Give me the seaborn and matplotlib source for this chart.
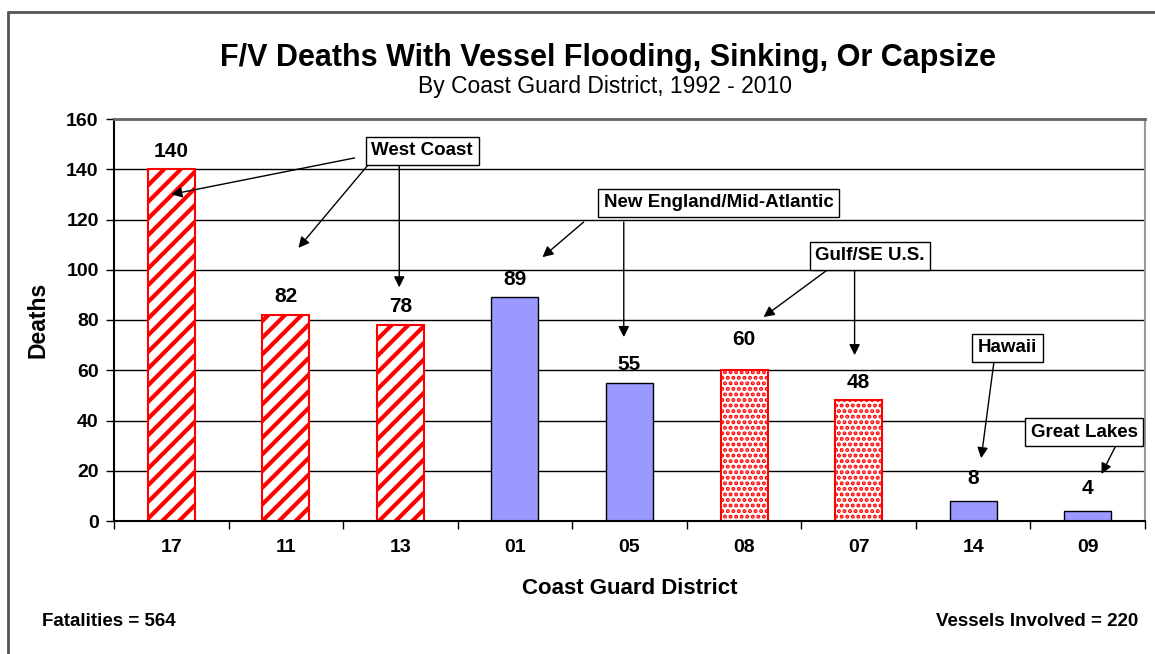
import numpy as np
import pandas as pd
import matplotlib.pyplot as plt
import seaborn as sns
from matplotlib.lines import Line2D

# Datos
distritos = ['17', '11', '13', '01', '05', '08', '07', '14', '09']
muertes = [140, 82, 78, 89, 55, 60, 48, 8, 4]
regiones = ['West Coast', 'West Coast', 'West Coast',
            'New England/Mid-Atlantic', 'New England/Mid-Atlantic',
            'Gulf/SE U.S.', 'Gulf/SE U.S.', 'Hawaii', 'Great Lakes']
y_ticks = [0, 20, 40, 60, 80, 100, 120, 140, 160]

df = pd.DataFrame({'District': distritos, 'Deaths': muertes, 'Region': regiones})

# estilo de relleno por region
estilos = {
    'West Coast': dict(facecolor='white', edgecolor='#FF0000', hatch='//', lw=1.5, hlw=3.0),
    'New England/Mid-Atlantic': dict(facecolor='#9999FF', edgecolor='black', hatch=None, lw=1, hlw=1),
    'Gulf/SE U.S.': dict(facecolor='white', edgecolor='#FF0000', hatch='...', lw=1.5, hlw=2.0),
    'Hawaii': dict(facecolor='#9999FF', edgecolor='black', hatch=None, lw=1, hlw=1),
    'Great Lakes': dict(facecolor='#9999FF', edgecolor='black', hatch=None, lw=1, hlw=1),
}

sns.set_theme(style='white')
plt.rcParams['font.family'] = ['Liberation Sans', 'DejaVu Sans']
plt.rcParams['text.color'] = 'black'
plt.rcParams['axes.labelcolor'] = 'black'
plt.rcParams['xtick.color'] = 'black'
plt.rcParams['ytick.color'] = 'black'
plt.rcParams['hatch.linewidth'] = 3.0

fig = plt.figure(figsize=(11.55, 6.54), dpi=100)
ax = fig.add_axes([114/1155, 133/654, 1031/1155, 402/654])

sns.barplot(data=df, x='District', y='Deaths', order=distritos, width=0.41,
            color='#9999FF', saturation=1, errorbar=None, ax=ax)

for barra, reg in zip(ax.patches, df['Region']):
    e = estilos[reg]
    barra.set_facecolor(e['facecolor'])
    barra.set_edgecolor(e['edgecolor'])
    barra.set_linewidth(e['lw'])
    if e['hatch']:
        barra.set_hatch(e['hatch'])
        if hasattr(barra, 'set_hatch_linewidth'):
            barra.set_hatch_linewidth(e['hlw'])

# etiquetas de valor
desplaz = {5: 22, 7: 16, 8: 16}
for i, v in enumerate(df['Deaths']):
    ax.annotate(str(v), (i, v), xytext=(0, desplaz.get(i, 13)), textcoords='offset points',
                ha='center', va='center', fontsize=15, fontweight='bold')

ax.set_xlim(-0.5, len(distritos) - 0.5)
ax.set_ylim(0, 160)
ax.set_yticks(y_ticks)
ax.grid(axis='y', color='black', lw=1)
ax.set_axisbelow(True)
ax.set_xticks(np.arange(-0.5, len(distritos), 1), minor=True)
ax.tick_params(axis='x', which='major', length=0, pad=13, labelsize=14)
ax.tick_params(axis='x', which='minor', length=6, width=1, color='black', bottom=True, direction='out')
ax.tick_params(axis='y', length=6, width=1, color='black', left=True, direction='out', labelsize=14, pad=5)
for lab in ax.get_xticklabels() + ax.get_yticklabels():
    lab.set_fontweight('bold')

for lado in ['left', 'bottom']:
    ax.spines[lado].set_color('black')
    ax.spines[lado].set_linewidth(1.5)
ax.spines['top'].set_color('#666666')
ax.spines['top'].set_linewidth(2)
ax.spines['right'].set_color('#999999')
ax.spines['right'].set_linewidth(1.5)

ax.set_xlabel('Coast Guard District', fontsize=16, fontweight='bold', labelpad=16)
ax.set_ylabel('Deaths', fontsize=16.5, fontweight='bold', labelpad=12)

# cajas de region con flechas
caja = dict(boxstyle='square,pad=0.3', fc='white', ec='black', lw=1)
flecha = dict(arrowstyle='-|>', color='black', lw=1, mutation_scale=16, shrinkA=0, shrinkB=0)
fs_caja = 13.5

ax.text(2.19, 147.3, 'West Coast', ha='center', va='center', fontsize=fs_caja, fontweight='bold', bbox=caja, zorder=5)
ax.annotate('', xy=(0.0, 130), xytext=(1.60, 144.5), arrowprops=flecha)
ax.annotate('', xy=(1.11, 108.7), xytext=(1.71, 141.3), arrowprops=flecha)
ax.annotate('', xy=(1.99, 93), xytext=(1.99, 141.3), arrowprops=flecha)

ax.text(4.78, 126.6, 'New England/Mid-Atlantic', ha='center', va='center', fontsize=fs_caja, fontweight='bold', bbox=caja, zorder=5)
ax.annotate('', xy=(3.24, 105), xytext=(3.60, 119), arrowprops=flecha)
ax.annotate('', xy=(3.95, 73.2), xytext=(3.95, 119), arrowprops=flecha)

ax.text(6.10, 105.5, 'Gulf/SE U.S.', ha='center', va='center', fontsize=fs_caja, fontweight='bold', bbox=caja, zorder=5)
ax.annotate('', xy=(5.17, 81.2), xytext=(5.75, 100.7), arrowprops=flecha)
ax.annotate('', xy=(5.965, 66), xytext=(5.965, 100.7), arrowprops=flecha)

ax.text(7.30, 68.9, 'Hawaii', ha='center', va='center', fontsize=fs_caja, fontweight='bold', bbox=caja, zorder=5)
ax.annotate('', xy=(7.07, 25), xytext=(7.18, 62.9), arrowprops=flecha)

ax.text(7.97, 35.4, 'Great Lakes', ha='center', va='center', fontsize=fs_caja, fontweight='bold', bbox=caja, zorder=5)
ax.annotate('', xy=(8.12, 18.7), xytext=(8.24, 29.5), arrowprops=flecha)

# titulos y notas
fig.text(0.526, 1 - 58/654, 'F/V Deaths With Vessel Flooding, Sinking, Or Capsize',
         ha='center', va='center', fontsize=22, fontweight='bold')
fig.text(0.524, 1 - 86/654, 'By Coast Guard District, 1992 - 2010',
         ha='center', va='center', fontsize=16.5)
fig.text(42/1155, 1 - 621/654, 'Fatalities = 564', ha='left', va='center', fontsize=13.5, fontweight='bold')
fig.text(1138/1155, 1 - 621/654, 'Vessels Involved = 220', ha='right', va='center', fontsize=13.5, fontweight='bold')

# marco exterior
fig.add_artist(Line2D([8/1155, 1], [1 - 12/654] * 2, transform=fig.transFigure, color='#555555', lw=2))
fig.add_artist(Line2D([8/1155] * 2, [0, 1 - 12/654], transform=fig.transFigure, color='#555555', lw=2))

fig.savefig('out.png', dpi=100)
